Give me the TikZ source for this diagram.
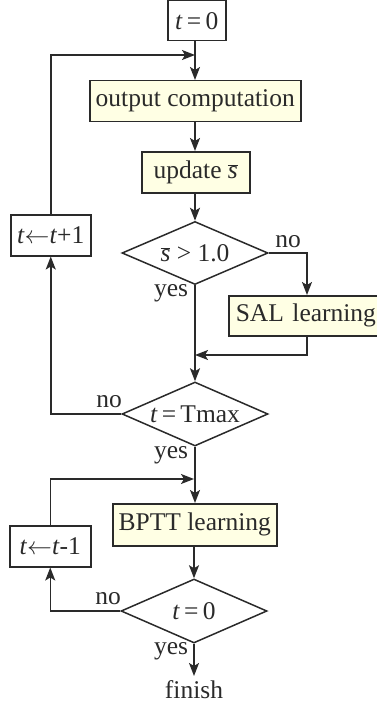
\documentclass[tikz,border=0pt]{standalone}
\usepackage{fontspec}
\setmainfont{Liberation Serif}
\usetikzlibrary{arrows.meta,shapes.geometric}
\definecolor{boxfill}{HTML}{FFFFE4}
\definecolor{ink}{HTML}{2A2A2A}
\newcommand{\ti}{\textit{t}}
\newcommand{\sbar}{$\overline{\mbox{\itshape s}}$}
\newcommand{\zw}[1]{\makebox[0pt]{#1}}
\begin{document}
\begin{tikzpicture}[x=1pt,y=-1pt,
  every node/.style={font=\fontsize{25.5}{30}\selectfont, text=ink},
  plainbox/.style={draw=ink, line width=1.5pt, fill=white, inner sep=0pt, anchor=north west},
  procbox/.style={draw=ink, line width=1.5pt, fill=boxfill, inner sep=0pt, anchor=north west},
  dec/.style={draw=ink, line width=1.5pt, diamond, inner sep=0pt},
  conn/.style={draw=ink, line width=1.5pt, -{Stealth[length=13pt,width=10pt,inset=3pt]}},
  lbl/.style={inner sep=0pt}]
\useasboundingbox (0,0) rectangle (377,706);
% boxes
\node[plainbox, minimum width=58pt, minimum height=40pt] (t0) at (167,0) {\ti\,=\,0};
\node[procbox, minimum width=211pt, minimum height=41pt] (out) at (89,80) {output computation};
\node[procbox, minimum width=160pt, minimum height=40pt, text width=156pt, align=left] (sal) at (228,295) {\hspace*{5pt}SAL learning};
\node[procbox, minimum width=108pt, minimum height=41pt] (upd) at (141,151) {update \sbar};
\node[plainbox, minimum width=80pt, minimum height=41pt] (inc) at (10,214) {\ti$\leftarrow$\ti+1};
\node[procbox, minimum width=164pt, minimum height=42pt] (bptt) at (112,503) {BPTT learning};
\node[plainbox, minimum width=81pt, minimum height=41pt] (dec1) at (9,525) {\ti$\leftarrow$\ti-1};
% diamonds
\node[dec, minimum width=146pt, minimum height=63pt] (d1) at (195,253) {\zw{\sbar\ > 1.0}};
\node[dec, minimum width=146pt, minimum height=64pt] (d2) at (195,414) {\zw{\ti\,=\,Tmax}};
\node[dec, minimum width=146pt, minimum height=64pt] (d3) at (194,611) {\zw{\ti\,=\,0}};
\node[lbl] (fin) at (194,690) {finish};
% coordinates
\coordinate (j1) at (195,55);
\coordinate (j2) at (195,355);
\coordinate (j3) at (194,479);
\coordinate (fe) at (194,676);
% main flow
\draw[conn] (t0.south -| j1) -- (out.north -| j1);
\draw[conn] (out.south -| j1) -- (upd.north -| j1);
\draw[conn] (upd.south -| j1) -- (d1.north);
\draw[conn] (d1.south) -- (d2.north);
\draw[conn] (d1.east) -| (sal.north -| 307,0);
\draw[conn] (sal.south -| 307,0) |- (j2);
\draw[conn] (d2.south) -- (d2.south |- bptt.north);
\draw[conn] (bptt.south -| d3.north) -- (d3.north);
\draw[conn] (d3.south) -- (fe);
% loops
\draw[conn] (d2.west) -| (inc.south);
\draw[conn] (inc.north) |- (j1);
\draw[conn] (d3.west) -| (dec1.south);
\draw[conn] (dec1.north) |- (j3);
% labels
\node[lbl] at (288,242) {no};
\node[lbl] at (171,293) {yes};
\node[lbl] at (109,402) {no};
\node[lbl] at (171,455) {yes};
\node[lbl] at (108,599) {no};
\node[lbl] at (171,651) {yes};
\end{tikzpicture}
\end{document}
